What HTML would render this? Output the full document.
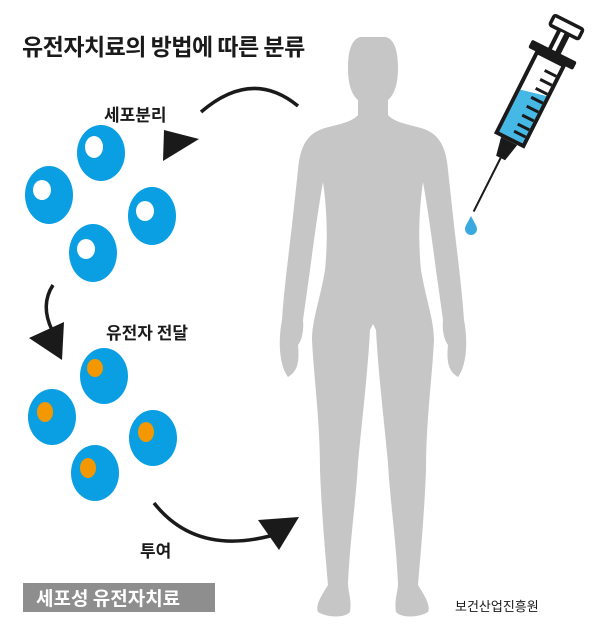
<!DOCTYPE html>
<html><head><meta charset="utf-8">
<style>
html,body{margin:0;padding:0;background:#fff;}
body{width:600px;height:631px;overflow:hidden;position:relative;font-family:"Liberation Sans","Noto Sans CJK KR",sans-serif;}
.t{position:absolute;white-space:nowrap;font-family:"Noto Sans CJK KR",sans-serif;}
</style></head><body>
<svg width="600" height="631" viewBox="0 0 600 631" style="position:absolute;left:0;top:0">
  <!-- body silhouette -->
  <g fill="#c6c6c6">
    <path id="half" d="M374,37 L360,37 C350,40 348,55 348,68 C348,85 352,95 358,100 L358,115 C352,122 340,124 325,128 C308,133 300,145 298,170 L292,225 C288,260 284,290 282,320 C278,340 279,365 288,377 C296,372 300,365 298,345 C302,340 304,330 303,320 L310,270 C314,240 318,210 323,182 C327,210 328,240 325,270 C320,300 312,320 312,340 C314,380 320,420 320,470 C322,520 326,560 328,585 C322,595 315,605 318,612 C328,618 345,618 350,612 C352,600 348,592 348,583 C350,540 356,500 358,463 C362,420 368,370 370,330 L374,322 Z"/>
    <use href="#half" transform="translate(746,0) scale(-1,1)"/>
  </g>
  <g fill="#0a9fe3">
    <ellipse cx="101" cy="153" rx="24" ry="28"/>
    <ellipse cx="49" cy="195" rx="24" ry="29"/>
    <ellipse cx="152" cy="216" rx="24" ry="29"/>
    <ellipse cx="93" cy="253" rx="24" ry="29"/>
    <ellipse cx="104" cy="376" rx="24" ry="28"/>
    <ellipse cx="52" cy="417" rx="24" ry="28"/>
    <ellipse cx="153" cy="438" rx="24" ry="28"/>
    <ellipse cx="95" cy="473" rx="24" ry="28"/>
  </g>
  <g fill="#fff">
    <ellipse cx="94" cy="147" rx="9" ry="11"/>
    <ellipse cx="42" cy="190" rx="9" ry="10"/>
    <ellipse cx="145" cy="211" rx="9" ry="10"/>
    <ellipse cx="86" cy="249" rx="9" ry="10"/>
  </g>
  <g fill="#f39800">
    <ellipse cx="95" cy="368" rx="8" ry="9"/>
    <ellipse cx="45" cy="412" rx="8" ry="10"/>
    <ellipse cx="146" cy="432" rx="8" ry="10"/>
    <ellipse cx="88" cy="468" rx="8" ry="10"/>
  </g>
  <g fill="none" stroke="#1a1a1a" stroke-width="3.5">
    <path d="M201,112 Q252,68 298,106"/>
    <path d="M53,285 Q40,305 52,330"/>
    <path d="M154,503 Q195,555 270,536"/>
  </g>
  <g fill="#1a1a1a">
    <polygon points="164,130 199,139 163,161"/>
    <polygon points="29,338 64,322 62,360"/>
    <polygon points="258,520 299,517 279,550"/>
  </g>
  <g transform="translate(568,24) rotate(26.7)">
    <rect x="-16" y="-2" width="32" height="11" rx="2" fill="#fff" stroke="#1a1a1a" stroke-width="3.5"/>
    <rect x="-7" y="9" width="14" height="22" fill="#1a1a1a"/>
    <rect x="-3" y="10" width="4" height="20" fill="#fff"/>
    <rect x="-25" y="30" width="50" height="9" rx="2" fill="#1a1a1a"/>
    <rect x="-15" y="39" width="30" height="90" fill="#fff" stroke="#1a1a1a" stroke-width="4"/>
    <path d="M-13,80 L13,74 L13,127 L-13,127 Z" fill="#45b8e6"/>
    <g stroke="#1a1a1a" stroke-width="3">
      <line x1="0" y1="52" x2="13" y2="52"/><line x1="0" y1="62" x2="13" y2="62"/>
      <line x1="0" y1="72" x2="13" y2="72"/><line x1="0" y1="82" x2="13" y2="82"/>
      <line x1="0" y1="92" x2="13" y2="92"/><line x1="0" y1="102" x2="13" y2="102"/>
      <line x1="0" y1="112" x2="13" y2="112"/><line x1="0" y1="120" x2="13" y2="120"/>
    </g>
    <path d="M-9,131 L9,131 L5,150 L-5,150 Z" fill="#1a1a1a"/>
    <line x1="0" y1="150" x2="0" y2="210" stroke="#1a1a1a" stroke-width="2"/>
  </g>
  <path d="M471,216 C468,222 465,226 465,229 A6,6 0 0 0 477,229 C477,226 474,222 471,216 Z" fill="#3aa9e0"/>
  <rect x="23" y="583" width="192" height="29" fill="#8e8e8e"/>
</svg>
<div class="t" style="left:22px;top:28px;font-size:23px;font-weight:700;color:#1a1a1a;letter-spacing:-0.5px;">유전자치료의 방법에 따른 분류</div>
<div class="t" style="left:104px;top:101px;font-size:17px;font-weight:700;color:#1a1a1a;">세포분리</div>
<div class="t" style="left:106px;top:319px;font-size:17px;font-weight:700;color:#1a1a1a;">유전자 전달</div>
<div class="t" style="left:140px;top:537px;font-size:17px;font-weight:700;color:#1a1a1a;">투여</div>
<div class="t" style="left:36px;top:583px;font-size:19px;font-weight:700;color:#fff;line-height:29px;">세포성 유전자치료</div>
<div class="t" style="left:455px;top:596px;font-size:13px;color:#1a1a1a;">보건산업진흥원</div>
</body></html>
